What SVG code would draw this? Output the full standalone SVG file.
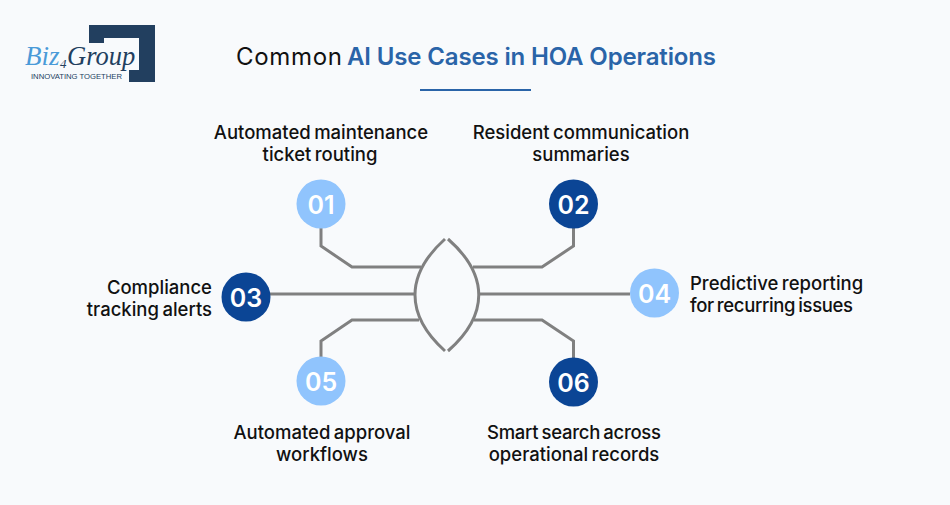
<svg xmlns="http://www.w3.org/2000/svg" width="950" height="505" viewBox="0 0 950 505">
<style>
.bg{fill:#f8fafc}
text{font-family:"Inter","Liberation Sans",sans-serif}
.lbl{font-size:18.500px;font-weight:500;fill:#111;text-anchor:middle;word-spacing:-1.500px}
.lft{text-anchor:start}
.rgt{text-anchor:end}
.num{font-size:25px;font-weight:600;fill:#fff;text-anchor:middle}
.lt{fill:#90c4fd}
.dk{fill:#0b4595}
.cn{fill:none;stroke:#808080;stroke-width:3}
.ser{font-family:"Liberation Serif",serif;font-style:italic}
</style>
<rect class="bg" width="950" height="505"/>
<g id="logo">
<path d="M89 25H155V82H129V70H139V38H104V43H89Z" fill="#223f5f"/>
<text class="ser" x="25" y="65" font-size="27" fill="#4a9ad8">Biz<tspan x="60" dy="3" font-size="13" fill="#223f5f">4</tspan><tspan x="67" dy="-3" font-size="26.500" fill="#223f5f">Group</tspan></text>
<text x="31" y="79" font-size="7.700" textLength="91" style="font-family:'Liberation Sans',sans-serif" fill="#223f5f">INNOVATING TOGETHER</text>
</g>
<g id="title">
<text x="236" y="65" font-size="24" textLength="106" fill="#111" font-weight="400">Common</text>
<text x="347" y="65" font-size="24" textLength="369" fill="#2a64a8" font-weight="600">AI Use Cases in HOA Operations</text>
<rect x="420" y="89" width="111" height="2" fill="#2a64a8"/>
</g>
<g id="connectors">
<path class="cn" d="M321 228V246L352 267H421"/>
<path class="cn" d="M573.500 228V246L542 267H473"/>
<path class="cn" d="M270 294H414"/>
<path class="cn" d="M480 294H630"/>
<path class="cn" d="M321 357V341L352 320H419"/>
<path class="cn" d="M573.500 358V341L542 320H474"/>
<path class="cn" d="M445 239C405 275 405 315 445 351"/>
<path class="cn" d="M448 239C489 275 489 315 448 351"/>
</g>
<g id="n1"><circle class="lt" cx="321" cy="204" r="24.500"/><text class="num" x="321" y="214">01</text><text class="lbl" x="321" y="138.500">Automated maintenance</text><text class="lbl" x="320" y="160.500">ticket routing</text></g>
<g id="n2"><circle class="dk" cx="573.500" cy="204" r="24.500"/><text class="num" x="573.500" y="214">02</text><text class="lbl" x="581" y="138.500">Resident communication</text><text class="lbl" x="581" y="160.500">summaries</text></g>
<g id="n3"><circle class="dk" cx="246" cy="297" r="24.500"/><text class="num" x="246" y="307">03</text><text class="lbl rgt" x="212" y="293.500">Compliance</text><text class="lbl rgt" x="212" y="315.500">tracking alerts</text></g>
<g id="n4"><circle class="lt" cx="654.500" cy="293" r="24.500"/><text class="num" x="654.500" y="303">04</text><text class="lbl lft" x="690" y="289.500">Predictive reporting</text><text class="lbl lft" x="690" y="311.500" textLength="163">for recurring issues</text></g>
<g id="n5"><circle class="lt" cx="321" cy="381" r="24.500"/><text class="num" x="321" y="391">05</text><text class="lbl" x="322" y="438.500">Automated approval</text><text class="lbl" x="322" y="460.500">workflows</text></g>
<g id="n6"><circle class="dk" cx="573.500" cy="382" r="24.500"/><text class="num" x="573.500" y="392">06</text><text class="lbl" x="574" y="438.500" textLength="174">Smart search across</text><text class="lbl" x="574" y="460.500">operational records</text></g>
</svg>
